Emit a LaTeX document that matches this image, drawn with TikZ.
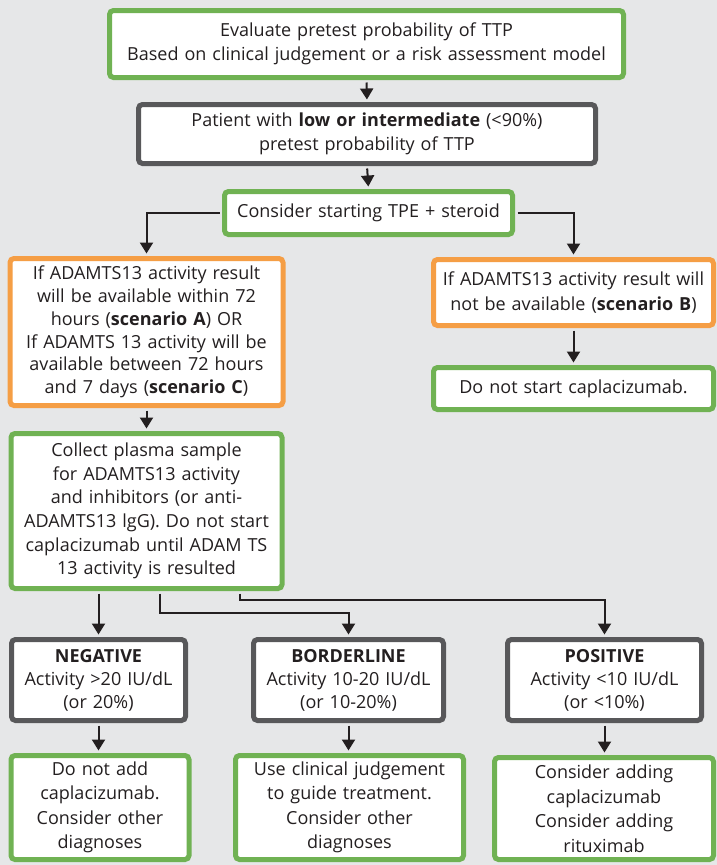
\documentclass[tikz,border=0pt]{standalone}
\usepackage{fontspec}
\setmainfont{Open Sans}
\usetikzlibrary{arrows.meta,calc}
\definecolor{bggray}{HTML}{E6E7E8}
\definecolor{boxgreen}{HTML}{70B253}
\definecolor{boxorange}{HTML}{F59E45}
\definecolor{boxdark}{HTML}{58585A}
\definecolor{linecol}{HTML}{231F20}
\tikzset{
  basebox/.style={draw, fill=white, line width=5pt, rounded corners=4pt, inner sep=0pt,
    align=center, font=\fontsize{18}{24.5}\selectfont, text=linecol},
  gbox/.style={basebox, draw=boxgreen},
  obox/.style={basebox, draw=boxorange},
  dbox/.style={basebox, draw=boxdark},
  conn/.style={draw=linecol, line width=2pt, -{Triangle[width=13pt,length=11pt]}, shorten >=2.5pt, shorten <=2.5pt}
}
\begin{document}
\begin{tikzpicture}[x=1pt,y=-1pt]
\fill[bggray] (0,0) rectangle (717,865);
\useasboundingbox (0,0) rectangle (717,865);

\node[gbox, minimum width=514pt, minimum height=67pt, text width=510pt] (b1) at (366.5,44)
  {Evaluate pretest probability of TTP\\Based on clinical judgement or a risk assessment model};
\node[dbox, minimum width=457pt, minimum height=59pt, text width=450pt] (b2) at (367,134)
  {Patient with \textbf{low or intermediate} (<90\%)\\pretest probability of TTP};
\node[gbox, minimum width=288pt, minimum height=43pt, text width=280pt] (b3) at (368.5,213)
  {Consider starting TPE + steroid};
\node[obox, minimum width=273pt, minimum height=147pt, text width=268pt,
  font=\fontsize{18}{22.8}\selectfont] (b4) at (146.5,332)
  {If ADAMTS13 activity result\\will be available within 72\\hours (\textbf{scenario A}) OR\\If ADAMTS 13 activity will be\\available between 72 hours\\and 7 days (\textbf{scenario C})};
\node[obox, minimum width=280pt, minimum height=66pt, text width=275pt] (b5) at (573.5,292.5)
  {If ADAMTS13 activity result will\\not be available (\textbf{scenario B})};
\node[gbox, minimum width=280pt, minimum height=42pt, text width=275pt] (b6) at (573.5,388.5)
  {Do not start caplacizumab.};
\node[gbox, minimum width=271pt, minimum height=155pt, text width=265pt,
  font=\fontsize{18}{23.6}\selectfont] (b7) at (146.5,511)
  {Collect plasma sample\\for ADAMTS13 activity\\and inhibitors (or anti-\\ADAMTS13 lgG). Do not start\\caplacizumab until ADAM TS\\13 activity is resulted};
\node[dbox, minimum width=174pt, minimum height=81pt, text width=170pt,
  font=\fontsize{18}{23}\selectfont] (b8) at (98.5,680)
  {\textbf{NEGATIVE}\\Activity >20 IU/dL\\(or 20\%)};
\node[dbox, minimum width=190pt, minimum height=81pt, text width=186pt,
  font=\fontsize{18}{23}\selectfont] (b9) at (348.5,680)
  {\textbf{BORDERLINE}\\Activity 10-20 IU/dL\\(or 10-20\%)};
\node[dbox, minimum width=194pt, minimum height=81pt, text width=190pt,
  font=\fontsize{18}{23}\selectfont] (b10) at (604.5,680)
  {\textbf{POSITIVE}\\Activity <10 IU/dL\\(or <10\%)};
\node[gbox, minimum width=178pt, minimum height=104pt, text width=174pt] (b11) at (100,807.5)
  {Do not add\\caplacizumab.\\Consider other\\diagnoses};
\node[gbox, minimum width=228pt, minimum height=104pt, text width=224pt] (b12) at (349.5,807.5)
  {Use clinical judgement\\to guide treatment.\\Consider other\\diagnoses};
\node[gbox, minimum width=219pt, minimum height=102pt, text width=215pt] (b13) at (604,808.5)
  {Consider adding\\caplacizumab\\Consider adding\\rituximab};

\draw[conn] (b1.south) -- (b2.north);
\draw[conn] (b2.south) -- (b3.north);
\draw[conn] (b3.west) -| (b4.north);
\draw[conn] (b3.east) -| (b5.north);
\draw[conn] (b5.south) -- (b6.north);
\draw[conn] (b4.south) -- (b7.north);
\draw[conn] (b7.south -| b8.north) -- (b8.north);
\draw[conn] ([xshift=151pt]b7.south west) |- ([yshift=24pt]b9.north) -- (b9.north);
\draw[conn] ([xshift=231pt]b7.south west) |- ([yshift=37pt]b10.north) -- (b10.north);
\draw[conn] (b8.south) -- (b8.south |- b11.north);
\draw[conn] (b9.south) -- (b9.south |- b12.north);
\draw[conn] (b10.south) -- (b10.south |- b13.north);
\end{tikzpicture}
\end{document}
